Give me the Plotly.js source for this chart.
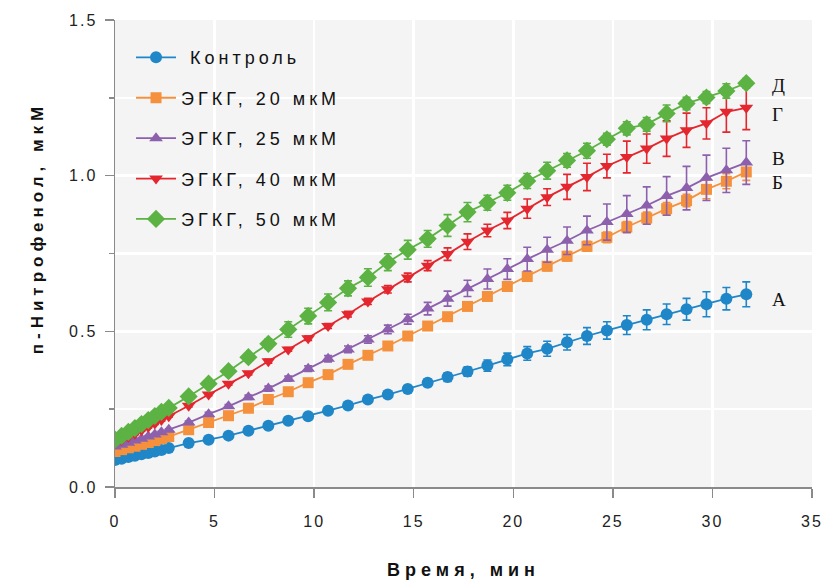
<!DOCTYPE html>
<html><head><meta charset="utf-8">
<script src="https://cdn.plot.ly/plotly-3.0.1.min.js"></script>
<style>
html,body{margin:0;padding:0;background:#fff;}
#chart{width:825px;height:580px;}
.xtick text,.ytick text{letter-spacing:2px;}
.legendtext{letter-spacing:4px;}
.xtitle{letter-spacing:5px;}
.annotation[data-index="0"] text{letter-spacing:5px;}
</style></head><body><div id="chart"></div>
<script>
// Time points, minutes
const time = [0, 0.33, 0.67, 1.0, 1.33, 1.67, 2.0, 2.33, 2.7,
  3.7, 4.7, 5.7, 6.7, 7.7, 8.7, 9.7, 10.7, 11.7, 12.7, 13.7, 14.7, 15.7, 16.7, 17.7, 18.7,
  19.7, 20.7, 21.7, 22.7, 23.7, 24.7, 25.7, 26.7, 27.7, 28.7, 29.7, 30.7, 31.7];

const seriesNames = ['\u00a0Контроль', 'ЭГКГ, 20 мкМ', 'ЭГКГ, 25 мкМ', 'ЭГКГ, 40 мкМ', 'ЭГКГ, 50 мкМ'];
const curveLabels = ['А', 'Б', 'В', 'Г', 'Д'];

const control = [0.087, 0.091, 0.096, 0.100, 0.105, 0.109, 0.114, 0.119, 0.125,
  0.141, 0.152, 0.165, 0.181, 0.197, 0.213, 0.227, 0.245, 0.262, 0.281,
  0.297, 0.315, 0.335, 0.353, 0.371, 0.390, 0.410, 0.429, 0.444, 0.465,
  0.485, 0.503, 0.520, 0.537, 0.555, 0.571, 0.587, 0.605, 0.619];
const controlErr = [0.003, 0.003, 0.003, 0.003, 0.003, 0.003, 0.003, 0.003, 0.003,
  0.004, 0.004, 0.005, 0.005, 0.006, 0.006, 0.007, 0.007, 0.008, 0.008,
  0.009, 0.010, 0.012, 0.014, 0.015, 0.018, 0.020, 0.022, 0.024, 0.025,
  0.027, 0.028, 0.030, 0.032, 0.033, 0.035, 0.040, 0.036, 0.040];

const egcg20 = [0.114, 0.120, 0.126, 0.131, 0.137, 0.143, 0.149, 0.155, 0.162,
  0.184, 0.207, 0.229, 0.253, 0.281, 0.306, 0.335, 0.361, 0.394, 0.423,
  0.453, 0.485, 0.517, 0.547, 0.580, 0.612, 0.644, 0.676, 0.709, 0.741,
  0.773, 0.802, 0.835, 0.864, 0.894, 0.920, 0.956, 0.982, 1.012];
const egcg20Err = [0.003, 0.003, 0.003, 0.003, 0.003, 0.003, 0.003, 0.003, 0.003,
  0.004, 0.004, 0.005, 0.005, 0.005, 0.006, 0.006, 0.007, 0.007, 0.008,
  0.008, 0.009, 0.010, 0.010, 0.011, 0.012, 0.012, 0.013, 0.014, 0.015,
  0.016, 0.017, 0.018, 0.019, 0.020, 0.020, 0.030, 0.024, 0.027];

const egcg25 = [0.130, 0.136, 0.142, 0.149, 0.155, 0.162, 0.169, 0.176, 0.184,
  0.207, 0.234, 0.259, 0.288, 0.316, 0.348, 0.380, 0.412, 0.442, 0.474,
  0.506, 0.539, 0.573, 0.605, 0.638, 0.668, 0.700, 0.732, 0.762, 0.791,
  0.824, 0.851, 0.877, 0.904, 0.935, 0.960, 0.993, 1.017, 1.042];
const egcg25Err = [0.003, 0.003, 0.003, 0.003, 0.003, 0.003, 0.003, 0.003, 0.003,
  0.005, 0.006, 0.006, 0.007, 0.008, 0.008, 0.009, 0.010, 0.011, 0.012,
  0.014, 0.016, 0.020, 0.024, 0.026, 0.032, 0.033, 0.038, 0.040, 0.044,
  0.046, 0.058, 0.059, 0.060, 0.062, 0.070, 0.073, 0.071, 0.070];

const egcg40 = [0.141, 0.151, 0.161, 0.171, 0.182, 0.193, 0.204, 0.215, 0.227,
  0.261, 0.297, 0.332, 0.365, 0.404, 0.442, 0.478, 0.517, 0.555, 0.596,
  0.635, 0.673, 0.711, 0.748, 0.788, 0.824, 0.856, 0.894, 0.931, 0.964,
  0.996, 1.031, 1.060, 1.087, 1.119, 1.146, 1.168, 1.205, 1.218];
const egcg40Err = [0.003, 0.003, 0.003, 0.003, 0.003, 0.003, 0.003, 0.003, 0.003,
  0.004, 0.004, 0.005, 0.005, 0.006, 0.006, 0.007, 0.008, 0.009, 0.010,
  0.012, 0.014, 0.016, 0.020, 0.025, 0.020, 0.026, 0.031, 0.027, 0.040,
  0.044, 0.038, 0.051, 0.047, 0.057, 0.055, 0.050, 0.065, 0.070];

const egcg50 = [0.152, 0.164, 0.177, 0.189, 0.202, 0.215, 0.228, 0.241, 0.254,
  0.291, 0.332, 0.372, 0.417, 0.460, 0.506, 0.549, 0.593, 0.638, 0.673,
  0.722, 0.762, 0.797, 0.840, 0.883, 0.913, 0.945, 0.983, 1.016, 1.049,
  1.080, 1.117, 1.152, 1.165, 1.200, 1.232, 1.251, 1.272, 1.297];
const egcg50Err = [0.003, 0.003, 0.003, 0.003, 0.003, 0.003, 0.003, 0.003, 0.003,
  0.010, 0.010, 0.012, 0.012, 0.015, 0.025, 0.025, 0.027, 0.024, 0.028,
  0.027, 0.030, 0.027, 0.035, 0.031, 0.024, 0.024, 0.024, 0.027, 0.022,
  0.024, 0.019, 0.021, 0.022, 0.027, 0.020, 0.019, 0.023, 0.015];

const xTicks = [0, 5, 10, 15, 20, 25, 30, 35];
const yTicks = [0.0, 0.5, 1.0, 1.5];
const yTickText = ['0.0', '0.5', '1.0', '1.5'];

// styles
const values = [control, egcg20, egcg25, egcg40, egcg50];
const errors = [controlErr, egcg20Err, egcg25Err, egcg40Err, egcg50Err];
const colors = ['#1f86c8', '#f5913c', '#8d60ad', '#e4262e', '#5cb243'];
const symbols = ['circle', 'square', 'triangle-up', 'triangle-down', 'diamond'];
const sizes = [12, 11, 12, 12, 14];
const labelShift = [[24, -5], [24, -11], [24, 4], [24, -7], [24, -2]];

const traces = values.map((v, i) => ({
  type: 'scatter', mode: 'lines+markers', x: time, y: v, name: seriesNames[i],
  legendgroup: 'g' + i,
  line: {color: colors[i], width: 1.8},
  marker: {color: colors[i], symbol: symbols[i], size: sizes[i]},
  error_y: {type: 'data', array: errors[i], visible: true, color: colors[i], thickness: 1.6, width: 4}
}));

const annotations = [{
  xref: 'paper', yref: 'paper', x: -0.1287, y: 0.5546, textangle: -90, showarrow: false,
  text: 'п-Нитрофенол, мкМ', font: {family: 'Liberation Sans, Arial, sans-serif', size: 17, color: '#111', weight: 'bold'}
}];
values.forEach((v, i) => {
  annotations.push({
    xref: 'x', yref: 'y', x: time[time.length - 1], y: v[v.length - 1],
    xanchor: 'left', yanchor: 'middle', showarrow: false,
    xshift: labelShift[i][0], yshift: labelShift[i][1],
    text: curveLabels[i], font: {family: 'Liberation Serif, Times New Roman, serif', size: 19, color: '#111'}
  });
});

const axisFont = {family: 'Liberation Sans, Arial, sans-serif', size: 16, color: '#222'};
const layout = {
  width: 825, height: 580,
  margin: {l: 115, r: 13, t: 20, b: 93},
  paper_bgcolor: '#ffffff', plot_bgcolor: '#f4f4f4',
  showlegend: true,
  legend: {x: 0.023, y: 0.959, xanchor: 'left', yanchor: 'top', bgcolor: 'rgba(0,0,0,0)',
    font: {family: 'Liberation Sans, Arial, sans-serif', size: 18, color: '#111'},
    tracegroupgap: 14, itemwidth: 40},
  xaxis: {range: [0, 35], tickvals: xTicks, ticktext: xTicks.map(String),
    ticks: 'outside', ticklen: 9, tickwidth: 1.5, tickcolor: '#8a8a8a',
    showline: true, linecolor: '#8a8a8a', linewidth: 1.5, zeroline: false,
    showgrid: true, gridcolor: '#ffffff', gridwidth: 2.5,
    tickfont: axisFont, ticklabelstandoff: 10,
    title: {text: 'Время, мин', standoff: 36, font: {family: 'Liberation Sans, Arial, sans-serif', size: 18, color: '#111', weight: 'bold'}}},
  yaxis: {range: [0, 1.5], tickvals: yTicks, ticktext: yTickText,
    ticks: 'outside', ticklen: 9, tickwidth: 1.5, tickcolor: '#8a8a8a',
    minor: {dtick: 0.25, ticks: 'outside', ticklen: 5, tickcolor: '#8a8a8a', showgrid: true, gridcolor: '#ffffff', gridwidth: 2.5},
    showline: true, linecolor: '#8a8a8a', linewidth: 1.5, zeroline: false,
    showgrid: true, gridcolor: '#ffffff', gridwidth: 2.5,
    tickfont: axisFont, ticklabelstandoff: 4},
  annotations: annotations
};

Plotly.newPlot('chart', traces, layout, {displayModeBar: false, staticPlot: true});
</script></body></html>
